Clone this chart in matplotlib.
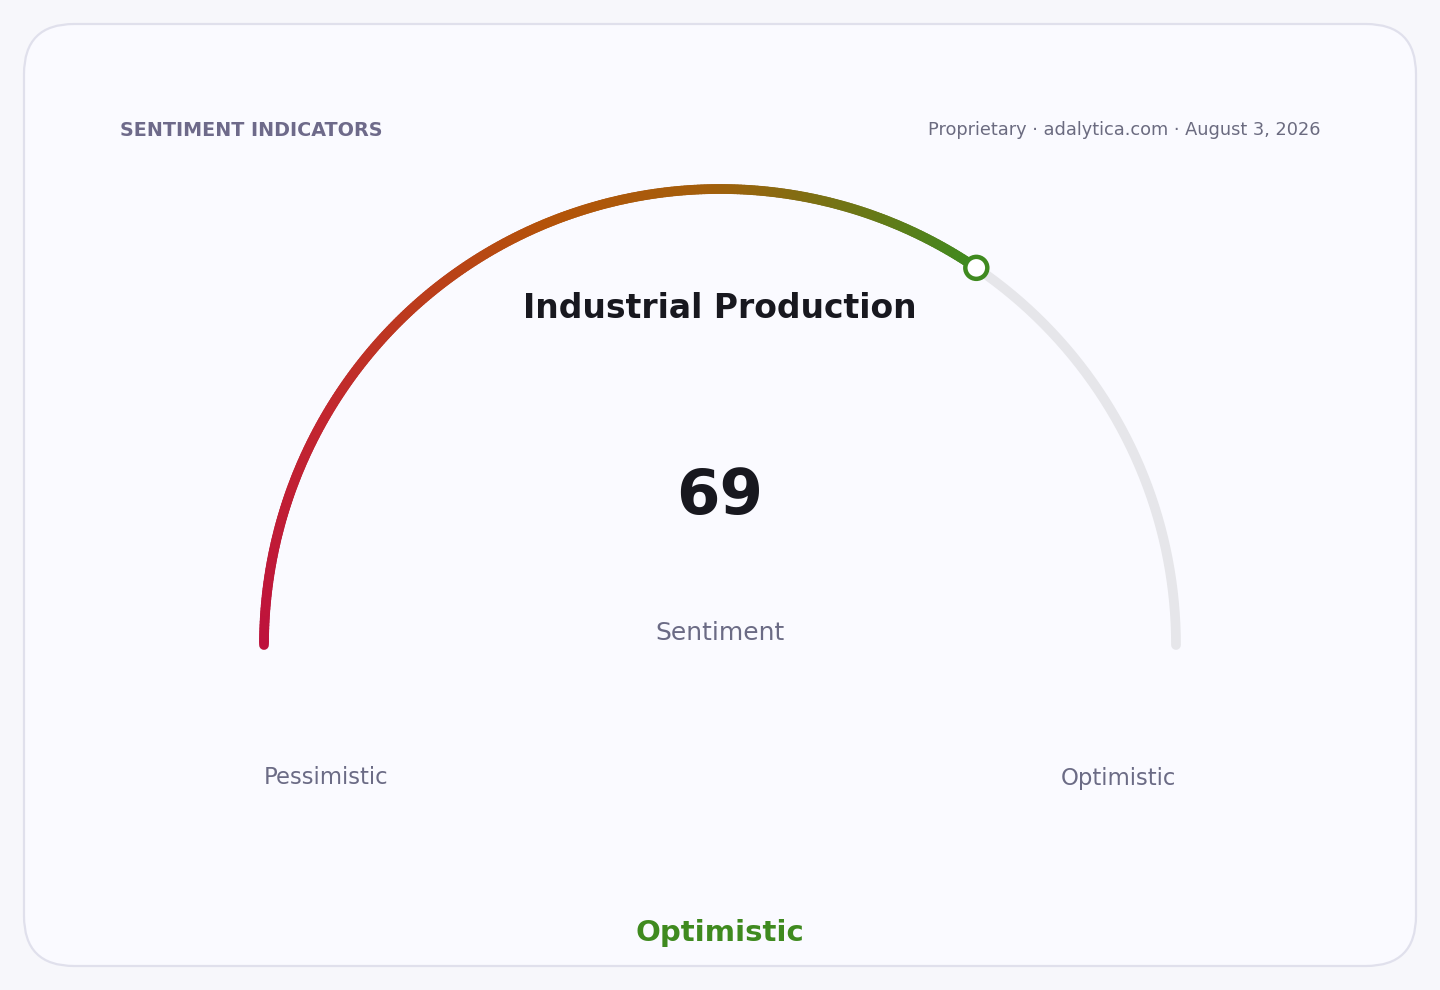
import numpy as np
import matplotlib.pyplot as plt
from matplotlib.patches import FancyBboxPatch, Circle
from matplotlib.collections import LineCollection
from matplotlib.colors import LinearSegmentedColormap

plt.rcParams['font.family'] = 'DejaVu Sans'

# data
title = 'Industrial Production'
value = 69
vmin, vmax = 0, 100
label_low = 'Pessimistic'
label_high = 'Optimistic'
status = 'Optimistic'
header = 'SENTIMENT INDICATORS'
source = 'Proprietary · adalytica.com · August 3, 2026'

fig = plt.figure(figsize=(14.4, 9.9), dpi=100)
fig.patch.set_facecolor('#f7f7fb')
ax = fig.add_axes([0, 0, 1, 1])
ax.set_xlim(0, 1440)
ax.set_ylim(990, 0)
ax.axis('off')

# card
card = FancyBboxPatch((24, 24), 1392, 942, boxstyle='round,pad=0,rounding_size=50',
                      facecolor='#fafaff', edgecolor='#e0e0ec', linewidth=1.6)
ax.add_patch(card)

cx, cy, r = 720, 645, 456

def pt(v):
    a = np.pi * (1 - (v - vmin) / (vmax - vmin))
    return cx + r * np.cos(a), cy - r * np.sin(a)

# track
t = np.linspace(vmin, vmax, 400)
tx, ty = pt(t)
ax.plot(tx, ty, color='#e6e6ea', lw=7, solid_capstyle='round', zorder=2)

# filled gradient part
cmap = LinearSegmentedColormap.from_list('g', [(0, '#be123c'), (0.25, '#c2272f'), (0.55, '#b45309'),
                                               (0.72, '#a35f0c'), (1, '#3f8a1f')])
f = np.linspace(vmin, value, 300)
fx, fy = pt(f)
segs = np.stack([np.column_stack([fx[:-1], fy[:-1]]), np.column_stack([fx[1:], fy[1:]])], axis=1)
lc = LineCollection(segs, colors=cmap(np.linspace(0, 1, len(segs))), linewidths=7,
                    capstyle='round', zorder=3)
ax.add_collection(lc)

mx, my = pt(value)
ax.add_patch(Circle((mx, my), 11, facecolor='white', edgecolor='#3f8a1f', linewidth=3.2, zorder=4))

# texts
ax.text(120, 130, header, ha='left', va='center', fontsize=13.8, fontweight='bold', color='#6e6a8a')
ax.text(1320, 130, source, ha='right', va='center', fontsize=12.8, color='#6b6b80')
ax.text(720, 309, title, ha='center', va='center', fontsize=23.8, fontweight='bold', color='#18181f')
ax.text(720, 497, str(value), ha='center', va='center', fontsize=45, fontweight='bold', color='#18181f')
ax.text(720, 633, 'Sentiment', ha='center', va='center', fontsize=18, color='#6b6b85')
ax.text(264, 778, label_low, ha='left', va='center', fontsize=16.4, color='#6b6b85')
ax.text(1176, 778, label_high, ha='right', va='center', fontsize=16.4, color='#6b6b85')
ax.text(720, 933, status, ha='center', va='center', fontsize=21, fontweight='bold', color='#3f8a1f')

fig.savefig('out.png', dpi=100, facecolor=fig.get_facecolor())
